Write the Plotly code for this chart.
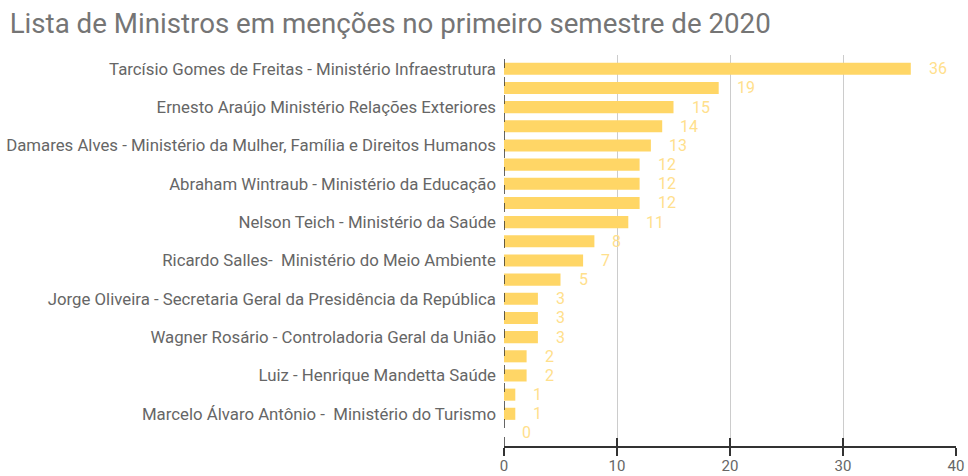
import plotly.graph_objects as go

title = "Lista de Ministros em menções no primeiro semestre de 2020"

# 20 bars, only every other label is shown on the axis in the original
labels = [
    "Tarcísio Gomes de Freitas - Ministério Infraestrutura", "",
    "Ernesto Araújo Ministério Relações Exteriores", "",
    "Damares Alves - Ministério da Mulher, Família e Direitos Humanos", "",
    "Abraham Wintraub - Ministério da Educação", "",
    "Nelson Teich - Ministério da Saúde", "",
    "Ricardo Salles-  Ministério do Meio Ambiente", "",
    "Jorge Oliveira - Secretaria Geral da Presidência da República", "",
    "Wagner Rosário - Controladoria Geral da União", "",
    "Luiz - Henrique Mandetta Saúde", "",
    "Marcelo Álvaro Antônio -  Ministério do Turismo", "",
]
values = [36, 19, 15, 14, 13, 12, 12, 12, 11, 8, 7, 5, 3, 3, 3, 2, 2, 1, 1, 0]
positions = list(range(len(values)))
x_ticks = [0, 10, 20, 30, 40]

bar_color = "#FFD666"
label_color = "#FFE08C"
font = "Roboto"

fig = go.Figure()
fig.add_trace(go.Bar(
    x=values, y=positions, orientation="h",
    marker=dict(color=bar_color, line=dict(width=0)),
    width=0.63, hoverinfo="x",
))

for v, p in zip(values, positions):
    fig.add_annotation(x=v, y=p, text=str(v), showarrow=False,
                       xanchor="left", yanchor="middle", xshift=16,
                       font=dict(family=font, size=16, color=label_color))

# inside tick marks via overlay axis
fig.add_trace(go.Scatter(x=[0, 40], y=[0, 0], xaxis="x2", mode="markers",
                         marker=dict(opacity=0), hoverinfo="skip", showlegend=False))

fig.add_shape(type="line", x0=0, x1=0, xref="x", y0=0, y1=1, yref="paper",
              line=dict(color="#333333", width=1.5, dash="dash"), layer="above")

fig.update_layout(
    width=968, height=476,
    margin=dict(l=504, r=12, t=55, b=30),
    paper_bgcolor="white", plot_bgcolor="white",
    showlegend=False,
    title=dict(text=title, x=0.010, xref="container", xanchor="left",
               y=0.95, yref="container", yanchor="middle",
               font=dict(family=font, size=27.7, color="#757575")),
    xaxis=dict(range=[0, 40], tickvals=x_ticks, ticks="outside", ticklen=8,
               tickcolor="#333333", tickwidth=1.5, automargin=False,
               ticklabelstandoff=-3,
               showline=True, linecolor="#333333", linewidth=1.5,
               showgrid=True, gridcolor="#CCCCCC", gridwidth=1, zeroline=False,
               tickfont=dict(family=font, size=15, color="#666666")),
    xaxis2=dict(range=[0, 40], overlaying="x", side="bottom", anchor="y",
                tickvals=x_ticks, ticks="inside", ticklen=8, tickcolor="#333333",
                tickwidth=1.5, showticklabels=False, showgrid=False, zeroline=False,
                showline=False, automargin=False),
    yaxis=dict(range=[19.68, -0.72], tickvals=positions, ticktext=labels,
               showgrid=False, zeroline=False, showline=False, ticks="",
               ticklabelstandoff=7, automargin=False,
               tickfont=dict(family=font, size=16.8, color="#666666")),
)

fig.write_html("out.html", config={"displayModeBar": False},
               post_script="document.body.style.margin='0';document.body.style.overflow='hidden';")
